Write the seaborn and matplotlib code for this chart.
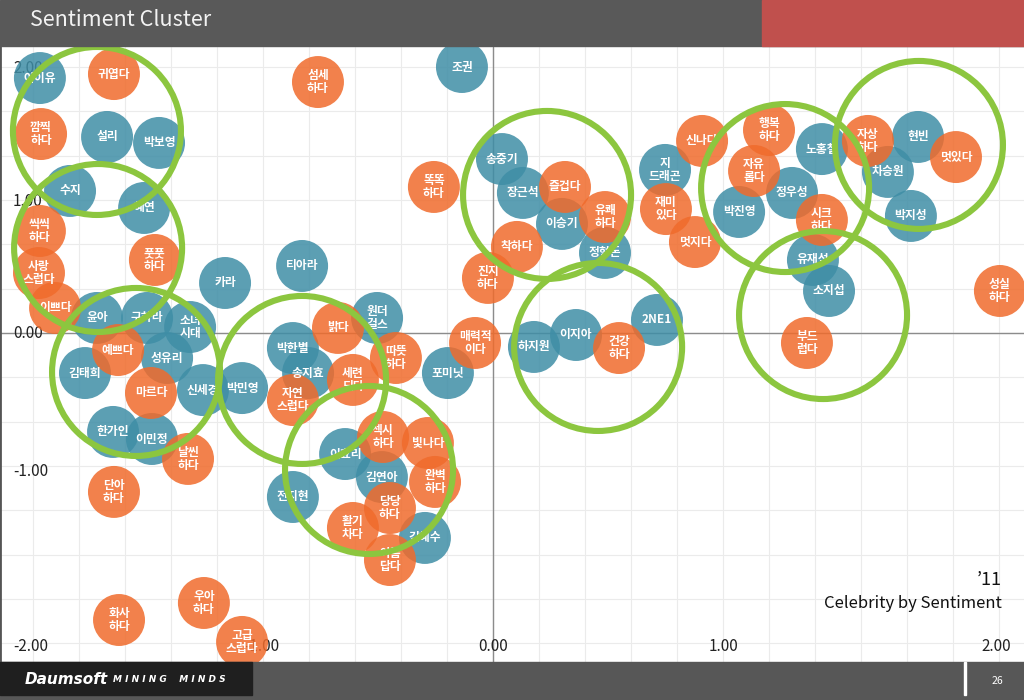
import pandas as pd
import matplotlib.pyplot as plt
import seaborn as sns
from matplotlib.patches import Rectangle
from matplotlib.ticker import MultipleLocator

# 연예인 (파란 원)
celeb_names = ['아이유', '설리', '박보영', '수지', '혜연', '카라', '티아라', '윤아', '구하라',
               '소녀\n시대', '김태희', '성유리', '신세경', '박민영', '한가인', '이민정', '박한별',
               '송지효', '원더\n걸스', '포미닛', '이효리', '김연아', '전지현', '김혜수', '조권',
               '송중기', '장근석', '이승기', '정형돈', '지\n드래곤', '하지원', '이지아', '2NE1',
               '노홍철', '현빈', '차승원', '정우성', '박진영', '박지성', '유재석', '소지섭']
celeb_x = [-1.970, -1.678, -1.452, -1.839, -1.517, -1.165, -0.830, -1.722, -1.504,
           -1.317, -1.774, -1.417, -1.261, -1.091, -1.652, -1.483, -0.870,
           -0.804, -0.504, -0.196, -0.643, -0.483, -0.870, -0.296, -0.135,
           0.039, 0.130, 0.300, 0.487, 0.748, 0.178, 0.361, 0.713,
           1.430, 1.848, 1.717, 1.300, 1.070, 1.817, 1.391, 1.461]
celeb_y = [1.917, 1.474, 1.429, 1.068, 0.940, 0.376, 0.504, 0.113, 0.113,
           0.045, -0.301, -0.188, -0.429, -0.414, -0.744, -0.797, -0.113,
           -0.301, 0.113, -0.301, -0.910, -1.083, -1.233, -1.541, 2.000,
           1.308, 1.053, 0.820, 0.602, 1.226, -0.105, -0.015, 0.098,
           1.383, 1.474, 1.211, 1.053, 0.910, 0.880, 0.549, 0.316]

# 감성어 (주황 원)
word_names = ['귀엽다', '깜찍\n하다', '씩씩\n하다', '사랑\n스럽다', '이쁘다', '풋풋\n하다', '예쁘다',
              '마르다', '날씬\n하다', '단아\n하다', '화사\n하다', '우아\n하다', '고급\n스럽다',
              '섬세\n하다', '똑똑\n하다', '밝다', '따뜻\n하다', '세련\n되다', '자연\n스럽다',
              '섹시\n하다', '빛나다', '완벽\n하다', '당당\n하다', '활기\n차다', '아름\n답다',
              '매력적\n이다', '진지\n하다', '착하다', '즐겁다', '유쾌\n하다', '건강\n하다',
              '재미\n있다', '멋지다', '신나다', '행복\n하다', '자유\n롭다', '시크\n하다',
              '자상\n하다', '멋있다', '성실\n하다', '부드\n럽다']
word_x = [-1.648, -1.965, -1.970, -1.974, -1.904, -1.470, -1.630,
          -1.487, -1.326, -1.648, -1.626, -1.257, -1.091,
          -0.761, -0.257, -0.674, -0.422, -0.609, -0.870,
          -0.478, -0.283, -0.252, -0.448, -0.609, -0.448,
          -0.078, -0.022, 0.104, 0.313, 0.487, 0.548,
          0.752, 0.878, 0.909, 1.200, 1.135, 1.430,
          1.630, 2.013, 2.204, 1.365]
word_y = [1.947, 1.496, 0.767, 0.451, 0.188, 0.549, -0.128,
          -0.451, -0.947, -1.195, -2.158, -2.030, -2.323,
          1.887, 1.098, 0.038, -0.188, -0.353, -0.504,
          -0.782, -0.827, -1.120, -1.316, -1.466, -1.707,
          -0.075, 0.414, 0.647, 1.098, 0.872, -0.113,
          0.932, 0.684, 1.444, 1.526, 1.218, 0.850,
          1.444, 1.323, 0.316, -0.075]

# 군집 (초록 원)
cluster_x = [-1.722, -1.717, -1.552, -0.830, -0.539, 0.235, 0.457, 1.270, 1.852, 1.435]
cluster_y = [1.519, 0.639, -0.293, -0.353, -1.030, 1.038, -0.105, 1.090, 1.414, 0.135]

# 축 눈금 라벨 (그림에 보이는 위치 그대로)
xtick_pos = [-1.004, 0.0, 1.0, 2.19]
xtick_lab = ['-1.00', '0.00', '1.00', '2.00']
ytick_pos = [1.985, 0.985, 0.0, -1.045, -2.36]
ytick_lab = ['2.00', '1.00', '0.00', '-1.00', '-2.00']

sns.set_style('white')
plt.rcParams['font.family'] = ['Noto Sans CJK KR', 'DejaVu Sans']

df = pd.concat([
    pd.DataFrame({'x': celeb_x, 'y': celeb_y, 'name': celeb_names, 'kind': '연예인'}),
    pd.DataFrame({'x': word_x, 'y': word_y, 'name': word_names, 'kind': '감성'}),
], ignore_index=True)

fig = plt.figure(figsize=(10.24, 7), dpi=100)
fig.patch.set_facecolor('white')
ax = fig.add_axes([0, 38 / 700, 1, 615 / 700])

ax.set_xlim(-2.1435, 2.3087)
ax.set_ylim(-2.4737, 2.1504)
ax.xaxis.set_major_locator(MultipleLocator(0.2))
ax.yaxis.set_major_locator(MultipleLocator(1 / 3))
ax.grid(True, color='#ebebeb', lw=0.8)
ax.set_axisbelow(True)
ax.tick_params(length=0, labelbottom=False, labelleft=False)
for s in ['top', 'right', 'bottom']:
    ax.spines[s].set_visible(False)
ax.spines['left'].set_color('#555555')
ax.spines['left'].set_linewidth(2)
ax.axhline(0, color='#8c8c8c', lw=1, zorder=1)
ax.axvline(0, color='#8c8c8c', lw=1, zorder=1)

# 눈금 라벨 (원 아래에 그려짐)
for p, t in zip(xtick_pos, xtick_lab):
    ax.text(p, -2.36, t, ha='center', va='center', fontsize=11, color='#222222', zorder=1.5)
for p, t in zip(ytick_pos, ytick_lab):
    ax.text(-2.087, p, t, ha='left', va='center', fontsize=11, color='#222222', zorder=1.5)

sns.scatterplot(data=df, x='x', y='y', hue='kind', ax=ax, s=1400, alpha=0.85,
                palette={'연예인': '#3f8ea6', '감성': '#f06b2c'}, linewidth=0,
                legend=False, zorder=2)
ax.set_xlabel('')
ax.set_ylabel('')

for _, r in df.iterrows():
    ax.text(r['x'], r['y'], r['name'], ha='center', va='center', color='white',
            fontsize=8.5, fontweight='bold', linespacing=1.0, zorder=3)

ax.scatter(cluster_x, cluster_y, s=14630, facecolors='none', edgecolors='#8cc63f',
           linewidths=4.4, zorder=4)

ax.text(0.978, 0.1335, '’11', transform=ax.transAxes, ha='right', va='center',
        fontsize=13, color='#111111')
ax.text(0.978, 0.0959, 'Celebrity by Sentiment', transform=ax.transAxes, ha='right',
        va='center', fontsize=12, color='#111111')

# 상단 헤더
fig.patches.append(Rectangle((0, 1 - 46 / 700), 1, 46 / 700, transform=fig.transFigure,
                             color='#595959', zorder=10))
fig.patches.append(Rectangle((762 / 1024, 1 - 46 / 700), 262 / 1024, 46 / 700,
                             transform=fig.transFigure, color='#c0504d', zorder=11))
fig.text(30 / 1024, 1 - 20 / 700, 'Sentiment Cluster', ha='left', va='center',
         fontsize=15.5, fontweight='light', color='#f2f2f2', zorder=12)

# 하단 푸터
fig.patches.append(Rectangle((0, 0), 1, 38 / 700, transform=fig.transFigure,
                             color='#575757', zorder=10))
fig.patches.append(Rectangle((0, 5 / 700), 252 / 1024, 33 / 700, transform=fig.transFigure,
                             color='#1f1f1f', zorder=11))
fig.patches.append(Rectangle((964 / 1024, 5 / 700), 1.5 / 1024, 33 / 700,
                             transform=fig.transFigure, color='white', zorder=11))
fig.text(25 / 1024, 21 / 700, 'Daumsoft', ha='left', va='center', fontsize=11,
         fontweight='bold', style='italic', color='white', family=['DejaVu Sans'], zorder=12)
fig.text(113 / 1024, 20 / 700, 'M I N I N G    M I N D S', ha='left', va='center',
         fontsize=6.5, fontweight='bold', style='italic', color='white',
         family=['DejaVu Sans'], zorder=12)
fig.text(997 / 1024, 19 / 700, '26', ha='center', va='center', fontsize=7.5,
         color='white', zorder=12)

fig.savefig('out.png', dpi=100)
